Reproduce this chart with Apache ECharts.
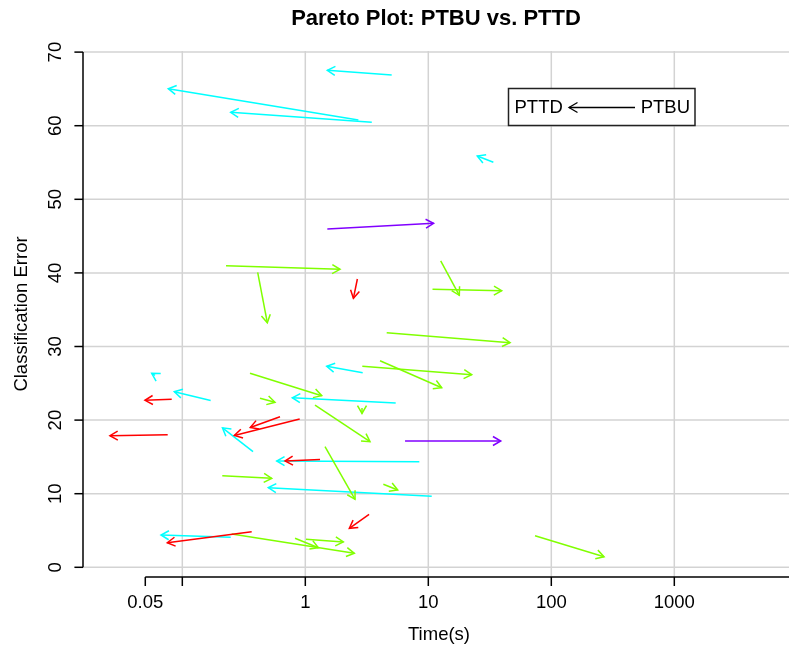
<!DOCTYPE html>
<html><head><meta charset="utf-8">
<script src="https://cdn.jsdelivr.net/npm/echarts@6/dist/echarts.min.js"></script>
<style>html,body{margin:0;padding:0;background:#fff}#c{width:789px;height:651px}</style>
</head><body><div id="c"></div>
<script>
// Each arrow: [PTBU time, PTBU error, PTTD time, PTTD error]  (tail = PTBU, head = PTTD)
const cyanArrows = [
  [5.04, 66.89, 1.51, 67.53],
  [2.70, 60.77, 0.0769, 65.03],
  [3.47, 60.46, 0.2474, 61.82],
  [33.8, 55.03, 25.0, 55.88],
  [2.928, 26.44, 1.493, 27.31],
  [5.43, 22.32, 0.784, 23.04],
  [0.060, 26.09, 0.0564, 26.36],
  [0.170, 22.66, 0.0861, 23.86],
  [0.3757, 15.71, 0.2122, 18.95],
  [10.66, 9.65, 0.5002, 10.82],
  [8.45, 14.35, 0.5856, 14.44],
  [0.2474, 4.08, 0.0671, 4.39]
];
const greenArrows = [
  [0.2266, 40.98, 1.915, 40.49],
  [0.410, 40.08, 0.491, 33.23],
  [12.61, 41.62, 17.87, 36.96],
  [10.82, 37.77, 39.5, 37.58],
  [4.59, 31.87, 46.2, 30.52],
  [2.907, 27.31, 22.53, 26.17],
  [4.05, 28.07, 12.85, 24.40],
  [0.355, 26.36, 1.359, 23.32],
  [0.428, 22.96, 0.567, 22.42],
  [2.89, 21.64, 2.89, 20.90],
  [0.2114, 12.45, 0.533, 12.09],
  [0.2521, 4.52, 2.503, 1.90],
  [1.199, 22.05, 3.357, 17.07],
  [1.446, 16.39, 2.536, 9.24],
  [4.31, 11.28, 5.64, 10.50],
  [73.7, 4.29, 268.3, 1.44],
  [0.8246, 3.94, 1.276, 2.66],
  [1.013, 3.80, 2.037, 3.44]
];
const redArrows = [
  [2.65, 39.17, 2.46, 36.55],
  [0.082, 22.83, 0.0497, 22.69],
  [0.0761, 18.02, 0.0258, 17.88],
  [0.6225, 20.46, 0.357, 18.99],
  [0.900, 20.15, 0.265, 17.91],
  [1.317, 14.65, 0.684, 14.44],
  [0.3665, 4.84, 0.0755, 3.34],
  [3.30, 7.20, 2.28, 5.30]
];
const purpleArrows = [
  [1.51, 45.96, 11.04, 46.74],
  [6.47, 17.16, 38.8, 17.16]
];

const yTicks = [0, 10, 20, 30, 40, 50, 60, 70];
const xTicks = [0.05, 0.1, 1, 10, 100, 1000, 10000];
const xTickLabels = ['0.05', '', '1', '10', '100', '1000', ''];
const xGridValues = [0.1, 1, 10, 100, 1000];

const FONT = '"Liberation Sans", Arial, Helvetica, sans-serif';
const X_MIN = 0.01558, X_MAX = 8560, Y_MIN = -1.318, Y_MAX = 70.15;
const GRID_COLOR = '#d3d3d3';

const chart = echarts.init(document.getElementById('c'));

function arrowSeries(name, data, color) {
  return {
    type: 'custom', name: name, data: data, z: 5, clip: false,
    encode: {x: [0, 2], y: [1, 3]},
    renderItem: function (params, api) {
      const a = api.coord([api.value(0), api.value(1)]);
      const b = api.coord([api.value(2), api.value(3)]);
      const ang = Math.atan2(b[1] - a[1], b[0] - a[0]);
      const L = 9, phi = Math.PI / 6;
      const b1 = [b[0] - L * Math.cos(ang - phi), b[1] - L * Math.sin(ang - phi)];
      const b2 = [b[0] - L * Math.cos(ang + phi), b[1] - L * Math.sin(ang + phi)];
      return {type: 'group', children: [
        {type: 'line', shape: {x1: a[0], y1: a[1], x2: b[0], y2: b[1]}, style: {stroke: color, lineWidth: 1.5}},
        {type: 'polyline', shape: {points: [b1, b, b2]}, style: {stroke: color, lineWidth: 1.5, fill: null}}
      ]};
    }
  };
}

const option = {
  animation: false,
  backgroundColor: '#fff',
  title: {
    text: 'Pareto Plot: PTBU vs. PTTD',
    left: 436, top: 7, textAlign: 'center', padding: 0,
    textStyle: {fontFamily: FONT, fontSize: 22, fontWeight: 'bold', color: '#000', lineHeight: 24}
  },
  grid: {left: 83, top: 51, width: 706, height: 526, containLabel: false},
  xAxis: {type: 'log', logBase: 10, min: X_MIN, max: X_MAX, show: false,
    axisLine: {show: false}, axisTick: {show: false}, axisLabel: {show: false}, splitLine: {show: false}},
  yAxis: {type: 'value', min: Y_MIN, max: Y_MAX, show: false,
    axisLine: {show: false}, axisTick: {show: false}, axisLabel: {show: false}, splitLine: {show: false}},
  graphic: [
    {type: 'text', x: 22, y: 314, rotation: Math.PI / 2,
      style: {text: 'Classification Error', fontFamily: FONT, fontSize: 18.5, fill: '#000', align: 'center', verticalAlign: 'middle'}},
    {type: 'text', x: 439, y: 635,
      style: {text: 'Time(s)', fontFamily: FONT, fontSize: 18.5, fill: '#000', align: 'center', verticalAlign: 'middle'}},
    {type: 'rect', shape: {x: 508.5, y: 88.5, width: 186.5, height: 37}, z: 10,
      style: {fill: '#fff', stroke: '#222', lineWidth: 1.5}},
    {type: 'text', x: 514.5, y: 107.5, z: 11,
      style: {text: 'PTTD', fontFamily: FONT, fontSize: 18.5, fill: '#000', align: 'left', verticalAlign: 'middle'}},
    {type: 'text', x: 690, y: 107.5, z: 11,
      style: {text: 'PTBU', fontFamily: FONT, fontSize: 18.5, fill: '#000', align: 'right', verticalAlign: 'middle'}},
    {type: 'line', z: 11, shape: {x1: 635, y1: 107.5, x2: 569, y2: 107.5}, style: {stroke: '#000', lineWidth: 1.3}},
    {type: 'polyline', z: 11, shape: {points: [[577.5, 102.5], [569, 107.5], [577.5, 112.5]]}, style: {stroke: '#000', lineWidth: 1.3, fill: null}}
  ],
  series: [
    { // vertical grid lines
      type: 'custom', z: 1, clip: false, silent: true,
      data: xGridValues.map(v => [v, 0]),
      renderItem: function (params, api) {
        const cs = params.coordSys;
        const x = api.coord([api.value(0), 10])[0];
        return {type: 'line', shape: {x1: x, y1: cs.y, x2: x, y2: cs.y + cs.height},
          style: {stroke: GRID_COLOR, lineWidth: 1.5}};
      }
    },
    { // horizontal grid lines
      type: 'custom', z: 1, clip: false, silent: true,
      data: yTicks.map(v => [1, v]),
      renderItem: function (params, api) {
        const cs = params.coordSys;
        const y = api.coord([1, api.value(1)])[1];
        return {type: 'line', shape: {x1: cs.x, y1: y, x2: cs.x + cs.width, y2: y},
          style: {stroke: GRID_COLOR, lineWidth: 1.5}};
      }
    },
    { // x axis
      type: 'custom', z: 3, clip: false, silent: true,
      data: xTicks.map((v, i) => [v, 0, i]),
      renderItem: function (params, api) {
        const cs = params.coordSys;
        const ay = cs.y + cs.height;
        const i = api.value(2);
        const x = api.coord([api.value(0), 10])[0];
        const children = [
          {type: 'line', shape: {x1: x, y1: ay, x2: x, y2: ay + 9}, style: {stroke: '#000', lineWidth: 1.5}},
          {type: 'text', x: x, y: 603, style: {text: xTickLabels[i], fontFamily: FONT, fontSize: 18.5, fill: '#000', align: 'center', verticalAlign: 'middle'}}
        ];
        if (i === 0) {
          const x0 = api.coord([xTicks[0], 10])[0];
          const x1 = api.coord([xTicks[xTicks.length - 1], 10])[0];
          children.push({type: 'line', shape: {x1: x0, y1: ay, x2: x1, y2: ay}, style: {stroke: '#000', lineWidth: 1.5}});
        }
        return {type: 'group', children: children};
      }
    },
    { // y axis
      type: 'custom', z: 3, clip: false, silent: true,
      data: yTicks.map((v, i) => [1, v, i]),
      renderItem: function (params, api) {
        const cs = params.coordSys;
        const ax = cs.x;
        const i = api.value(2);
        const y = api.coord([1, api.value(1)])[1];
        const children = [
          {type: 'line', shape: {x1: ax - 8.6, y1: y, x2: ax, y2: y}, style: {stroke: '#000', lineWidth: 1.5}},
          {type: 'text', x: 56, y: y, rotation: Math.PI / 2,
            style: {text: String(yTicks[i]), fontFamily: FONT, fontSize: 18.5, fill: '#000', align: 'center', verticalAlign: 'middle'}}
        ];
        if (i === 0) {
          const y0 = api.coord([1, yTicks[0]])[1];
          const y1 = api.coord([1, yTicks[yTicks.length - 1]])[1];
          children.push({type: 'line', shape: {x1: ax, y1: y0, x2: ax, y2: y1}, style: {stroke: '#000', lineWidth: 1.5}});
        }
        return {type: 'group', children: children};
      }
    },
    arrowSeries('cyan', cyanArrows, '#00FFFF'),
    arrowSeries('green', greenArrows, '#80FF00'),
    arrowSeries('red', redArrows, '#FF0000'),
    arrowSeries('purple', purpleArrows, '#8000FF')
  ]
};
chart.setOption(option);
</script>
</body></html>
